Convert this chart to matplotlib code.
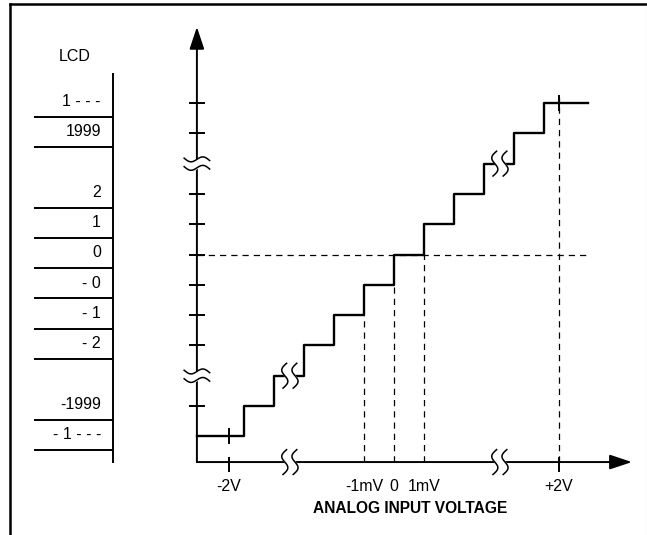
import numpy as np
import matplotlib
matplotlib.use('Agg')
import matplotlib.pyplot as plt

plt.rcParams['font.family'] = ['Liberation Sans', 'DejaVu Sans']

# transfer function: code levels (in LSB) and the input steps (in LSB) where the code changes
levels = [-6, -5, -4, -3, -2, -1, 0, 1, 2, 3, 4, 5]
step_x = [-5, -4, -3, -2, -1, 0, 1, 2, 3, 4, 5]
x_axis_pos = -6.57      # where the y axis stands
x_end = 6.47            # end of the last step
y_axis_pos = -6.85      # where the x axis stands

# LCD readings next to each code level
lcd_labels = ['1 - - -', '1999', '2', '1', '0', '- 0', '- 1', '- 2', '-1999', '- 1 - - -']
lcd_levels = [5, 4, 2, 1, 0, -1, -2, -3, -5, -6]

# y-axis tick levels and breaks
ytick_levels = [-5, -3, -2, -1, 0, 1, 2, 4, 5]
break_levels = [-4, 3]
break_x = [-3.47, 3.53]

# x-axis labels
xlabel_pos = [-5.5, -1, 0, 1, 5.5]
xlabel_txt = ['-2V', '-1mV', '0', '1mV', '+2V']

fig = plt.figure(figsize=(6.47, 5.35), dpi=100)
ax = fig.add_axes([0, 0, 1, 1])
ax.set_xlim(-394 / 30, 253 / 30)
ax.set_ylim((254.5 - 535) / 30.3, 254.5 / 30.3)
ax.axis('off')

lw = 1.4
# outer frame
ax.plot([-12.8, -12.8], [-9.5, 8.27], color='black', lw=1.8, clip_on=False)
ax.plot([-12.8, 8.4], [8.27, 8.27], color='black', lw=1.8, clip_on=False)
ax.plot([8.43, 8.43], [-9.5, 8.27], color='#cccccc', lw=0.8, clip_on=False)

# axes with arrows
arrow = dict(arrowstyle='-|>,head_length=0.9,head_width=0.3', mutation_scale=15,
             lw=lw, color='black', shrinkA=0, shrinkB=0)
ax.annotate('', xy=(x_axis_pos, 7.51), xytext=(x_axis_pos, y_axis_pos), arrowprops=arrow)
ax.annotate('', xy=(7.93, y_axis_pos), xytext=(x_axis_pos, y_axis_pos), arrowprops=arrow)

# y-axis ticks
ax.hlines(ytick_levels, x_axis_pos - 0.27, x_axis_pos + 0.27, color='black', lw=lw)

# staircase
xs = [x_axis_pos] + step_x + [x_end]
ys = levels + [levels[-1]]
ax.step(xs, ys, where='post', color='black', lw=1.7)

# dashed guide lines
dash = dict(color='black', lw=0.9, linestyle=(0, (5, 4)))
ax.hlines(0, x_axis_pos, 6.4, **dash)
ax.vlines(-1, y_axis_pos, -2, **dash)
ax.vlines(0, y_axis_pos, -1, **dash)
ax.vlines(1, y_axis_pos, 0, **dash)
ax.vlines(5.5, y_axis_pos, 5.2, **dash)

# +-2V ticks
ax.vlines([-5.5, 5.5], y_axis_pos - 0.33, y_axis_pos + 0.17, color='black', lw=lw)
ax.vlines(-5.5, -6.27, -5.73, color='black', lw=lw)
ax.vlines(5.5, 4.73, 5.27, color='black', lw=lw)


def s_break(x0, y0):
    # two parallel S strokes, white in between
    t = np.linspace(0, 1, 60)
    yy = y0 + (t - 0.5) * 0.82
    xx = x0 + 0.13 * np.sin(2 * np.pi * t) + (t - 0.5) * 0.12
    ax.fill_betweenx(yy, xx - 0.17, xx + 0.17, color='white', zorder=5)
    ax.plot(xx - 0.17, yy, color='black', lw=1.1, zorder=6)
    ax.plot(xx + 0.17, yy, color='black', lw=1.1, zorder=6)


def tilde_break(x0, y0):
    # two parallel tilde strokes across the vertical axis
    t = np.linspace(0, 1, 60)
    xx = x0 + (t - 0.5) * 0.85
    yy = y0 - 0.1 * np.sin(2 * np.pi * t) - (t - 0.5) * 0.08
    ax.fill_between(xx, yy - 0.14, yy + 0.14, color='white', zorder=5)
    ax.plot(xx, yy - 0.14, color='black', lw=1.1, zorder=6)
    ax.plot(xx, yy + 0.14, color='black', lw=1.1, zorder=6)


for bx, bl in zip(break_x, break_levels):
    s_break(bx, bl)
    s_break(bx, y_axis_pos)
    tilde_break(x_axis_pos, bl)

# x labels
for xp, txt in zip(xlabel_pos, xlabel_txt):
    ax.text(xp, -7.67, txt, ha='center', va='center', fontsize=11.5)
ax.text(0.53, -8.37, 'ANALOG INPUT VOLTAGE', ha='center', va='center',
        fontsize=11.2, fontweight='bold')

# LCD column
ax.text(-10.63, 6.55, 'LCD', ha='center', va='center', fontsize=11.5)
ax.vlines(-9.37, -6.88, 5.99, color='black', lw=lw)
for lab, lv in zip(lcd_labels, lcd_levels):
    ax.text(-9.77, lv + 0.05, lab, ha='right', va='center', fontsize=11.5)
    ax.hlines(lv - 0.45, -12.0, -9.37, color='black', lw=lw)

fig.savefig('out.png', dpi=100)
